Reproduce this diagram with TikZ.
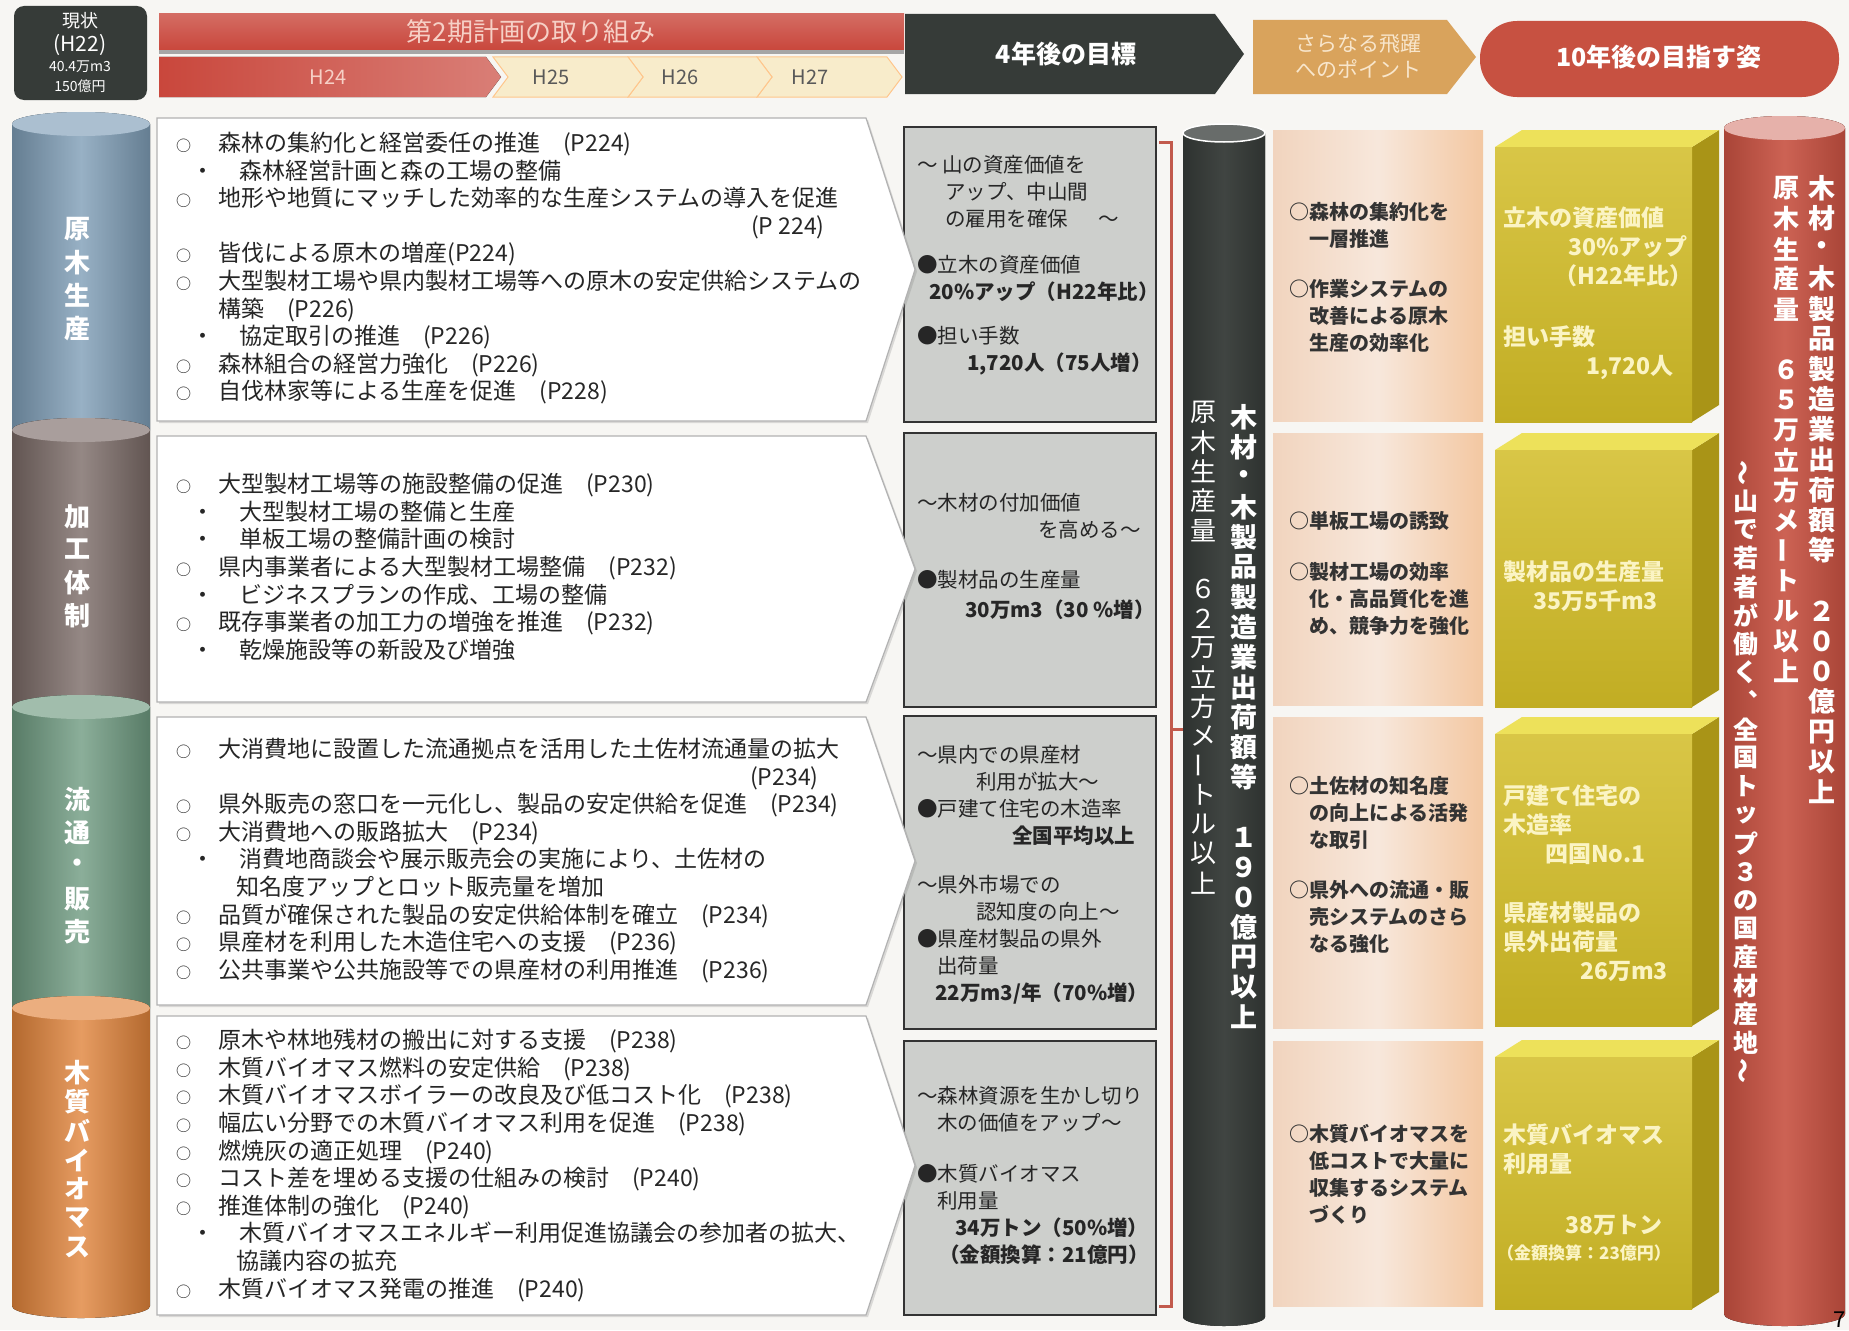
\documentclass[tikz,border=0pt]{standalone}
\usepackage{fontspec}
\setmainfont{Noto Sans CJK JP}
\usepackage{graphicx}
\usetikzlibrary{positioning, calc, shadows}

\definecolor{paper}{HTML}{F7F6F3}
\definecolor{genboku}{HTML}{7E9DB6}
\definecolor{kakou}{HTML}{7A6A66}
\definecolor{ryutsu}{HTML}{6E9A80}
\definecolor{biomass}{HTML}{E0833A}
\definecolor{darkgoal}{HTML}{363B38}
\definecolor{plred}{HTML}{C9473C}
\definecolor{plpink}{HTML}{F6D0C6}
\definecolor{goalgray}{HTML}{CDCFCC}
\definecolor{pointbg}{HTML}{F1D4BE}
\definecolor{pointhd}{HTML}{D9A35C}
\definecolor{pointpale}{HTML}{F8E6CC}
\definecolor{futured}{HTML}{C75141}
\definecolor{cubefront}{HTML}{D2BC26}
\definecolor{cubetop}{HTML}{EDE15A}
\definecolor{cubeside}{HTML}{A99417}
\definecolor{cubetext}{HTML}{FBF4C4}
\definecolor{yearcream}{HTML}{F8ECCB}
\definecolor{bracketred}{HTML}{C25A4C}

% vertical (tategaki) text: one character per row
\ExplSyntaxOn
\NewDocumentCommand{\vtext}{O{30pt}m}{
  \vbox{\offinterlineskip
    \tl_map_inline:nn {#2}
      {\hbox_to_wd:nn{1.2em}{\hss\vbox_to_ht:nn{#1}{\vss\hbox{##1}\vss}\hss}}
  }
}
\ExplSyntaxOff
\newcommand{\vbar}{\rotatebox[origin=c]{90}{ー}}
\newcommand{\vwave}{\rotatebox[origin=c]{90}{～}}

\newcommand{\maru}{\makebox[42pt][l]{\fontsize{15}{15}\selectfont ○}}
\newcommand{\pochi}{\hspace*{15pt}\makebox[48pt][l]{・}}

\tikzset{
  panel/.style={fill=white, draw=black!30, line width=1.2pt,
    drop shadow={opacity=0.25, shadow xshift=2pt, shadow yshift=-2pt}},
  goalframe/.style={fill=goalgray, draw=black!80, line width=1.6pt},
  plantext/.style={anchor=north west, inner sep=0pt, align=left, text=black!85,
    font=\fontsize{23}{27.6}\selectfont},
  goaltext/.style={anchor=north west, inner sep=0pt, align=left, text=black!85,
    font=\fontsize{20.5}{27}\selectfont},
  pointtext/.style={anchor=north west, inner sep=0pt, align=left, text=black!80,
    font=\bfseries\fontsize{20}{27}\selectfont},
  cubetxt/.style={anchor=north west, inner sep=0pt, align=left, text=cubetext,
    font=\bfseries\fontsize{23}{29}\selectfont},
  vlabel/.style={inner sep=0pt, text=white, font=\bfseries\fontsize{26}{26}\selectfont},
  nowtext/.style={inner sep=0pt, text=white},
}

% one segment of the left column
\newcommand{\segcyl}[3]{%
  \fill[left color=#1!80!black, right color=#1!80!black, middle color=#1!80!white]
    (12,#2) -- (12,#3) arc[start angle=180, end angle=0, x radius=69, y radius=12]
    -- (150,#2) arc[start angle=0, end angle=-180, x radius=69, y radius=12] -- cycle;
  \fill[#1!65!white] (81,#2) ellipse[x radius=69, y radius=12];
}

% yellow block of the 10-year column
\newcommand{\goldcube}[2]{%
  \fill[cubeside] (1692,#1+17) -- (1719,#1) -- (1719,#2-17) -- (1692,#2) -- cycle;
  \fill[cubetop] (1495,#1+17) -- (1522,#1) -- (1719,#1) -- (1692,#1+17) -- cycle;
  \fill[top color=cubefront!85!white, bottom color=cubefront!92!black]
    (1495,#1+17) rectangle (1692,#2);
}

\begin{document}
\begin{tikzpicture}[x=1pt, y=-1pt]
\useasboundingbox (0,0) rectangle (1849,1330);
\fill[paper] (0,0) rectangle (1849,1330);

% ---- header row
\fill[darkgoal, rounded corners=10pt] (14,6) rectangle (147,100);
\node[nowtext, font=\fontsize{18}{20}\selectfont] (genjo) at (80,21) {現状};
\node[nowtext, font=\fontsize{21}{23}\selectfont] (genjoyr) at (80,45) {(H22)};
\node[nowtext, font=\fontsize{14}{16}\selectfont] (genjovol) at (80,67) {40.4万m3};
\node[nowtext, font=\fontsize{14}{16}\selectfont] (genjoval) at (80,86) {150億円};

\fill[top color=plred!80!white, bottom color=plred] (159,14) rectangle (904,50);
\fill[black!35] (159,50) rectangle (904,54);
\node[text=plpink, font=\fontsize{26}{30}\selectfont] (dainiki) at (531,32) {第2期計画の取り組み};

\foreach \xa/\xb in {757/887, 628/757, 493/628}
  \filldraw[draw=orange!45, fill=yearcream, line width=1pt]
    (\xa,57) -- (\xb,57) -- (\xb+15,77) -- (\xb,97) -- (\xa,97) -- (\xa+15,77) -- cycle;
\fill[left color=plred, right color=plred!70!white]
  (159,57) -- (486,57) -- (501,77) -- (486,97) -- (159,97) -- cycle;
\node[text=plpink, font=\fontsize{20}{22}\selectfont] (h24) at (328,77) {H24};
\node[text=black!65, font=\fontsize{20}{22}\selectfont] (h25) at (551,77) {H25};
\node[text=black!65, font=\fontsize{20}{22}\selectfont] (h26) at (680,77) {H26};
\node[text=black!65, font=\fontsize{20}{22}\selectfont] (h27) at (810,77) {H27};

\fill[darkgoal] (905,14) -- (1215,14) -- (1244,54) -- (1215,94) -- (905,94) -- cycle;
\node[text=white, font=\bfseries\fontsize{25}{28}\selectfont] (yonengo) at (1066,54) {4年後の目標};

\fill[pointhd] (1253,20) -- (1447,20) -- (1476,57) -- (1447,94) -- (1253,94) -- cycle;
\node[text=pointpale, align=center, font=\fontsize{21}{26}\selectfont] (hiyaku) at (1358,56)
  {さらなる飛躍\\へのポイント};

\fill[futured, rounded corners=37pt] (1480,21) rectangle (1839,97);
\node[text=white, font=\bfseries\fontsize{25}{28}\selectfont] (junengo) at (1659,57) {10年後の目指す姿};

% ---- left column
\segcyl{genboku}{124}{430}
\segcyl{kakou}{430}{707}
\segcyl{ryutsu}{707}{1008}
\segcyl{biomass}{1008}{1306}
\node[vlabel] (lbgen) at (77,279) {\vtext[33pt]{原木生産}};
\node[vlabel] (lbkak) at (77,566) {\vtext[33pt]{加工体制}};
\node[vlabel] (lbryu) at (77,866) {\vtext[33pt]{流通・販売}};
\node[vlabel] (lbbio) at (77,1160) {\vtext[29pt]{木質バイオマス}};

% ---- 4-year targets (boxes first, plan panels overlap them)
\foreach \ya/\yb in {127/422, 433/707, 716/1029, 1041/1315}
  \filldraw[goalframe] (904,\ya) rectangle (1156,\yb);
\foreach \ya/\yb in {118/421, 436/702, 717/1005, 1016/1315}
  \filldraw[panel] (157,\ya) -- (866,\ya) -- (915,{(\ya+\yb)/2}) -- (866,\yb) -- (157,\yb) -- cycle;

\node[plantext] (plan1) at (176,132) {%
  \maru 森林の集約化と経営委任の推進　(P224)\\
  \pochi 森林経営計画と森の工場の整備\\
  \maru 地形や地質にマッチした効率的な生産システムの導入を促進\\
  \hspace*{575pt}(P 224)\\
  \maru 皆伐による原木の増産(P224)\\
  \maru 大型製材工場や県内製材工場等への原木の安定供給システムの\\
  \hspace*{42pt}構築　(P226)\\
  \pochi 協定取引の推進　(P226)\\
  \maru 森林組合の経営力強化　(P226)\\
  \maru 自伐林家等による生産を促進　(P228)};
\node[plantext] (plan2) at (176,473) {%
  \maru 大型製材工場等の施設整備の促進　(P230)\\
  \pochi 大型製材工場の整備と生産\\
  \pochi 単板工場の整備計画の検討\\
  \maru 県内事業者による大型製材工場整備　(P232)\\
  \pochi ビジネスプランの作成、工場の整備\\
  \maru 既存事業者の加工力の増強を推進　(P232)\\
  \pochi 乾燥施設等の新設及び増強};
\node[plantext] (plan3) at (176,738) {%
  \maru 大消費地に設置した流通拠点を活用した土佐材流通量の拡大\\
  \hspace*{574pt}(P234)\\
  \maru 県外販売の窓口を一元化し、製品の安定供給を促進　(P234)\\
  \maru 大消費地への販路拡大　(P234)\\
  \pochi 消費地商談会や展示販売会の実施により、土佐材の\\
  \hspace*{60pt}知名度アップとロット販売量を増加\\
  \maru 品質が確保された製品の安定供給体制を確立　(P234)\\
  \maru 県産材を利用した木造住宅への支援　(P236)\\
  \maru 公共事業や公共施設等での県産材の利用推進　(P236)};
\node[plantext] (plan4) at (176,1029) {%
  \maru 原木や林地残材の搬出に対する支援　(P238)\\
  \maru 木質バイオマス燃料の安定供給　(P238)\\
  \maru 木質バイオマスボイラーの改良及び低コスト化　(P238)\\
  \maru 幅広い分野での木質バイオマス利用を促進　(P238)\\
  \maru 燃焼灰の適正処理　(P240)\\
  \maru コスト差を埋める支援の仕組みの検討　(P240)\\
  \maru 推進体制の強化　(P240)\\
  \pochi 木質バイオマスエネルギー利用促進協議会の参加者の拡大、\\
  \hspace*{60pt}協議内容の拡充\\
  \maru 木質バイオマス発電の推進　(P240)};

\node[goaltext] (goal1) at (917,155) {%
  ～ 山の資産価値を\\
  \hspace*{28pt}アップ、中山間\\
  \hspace*{28pt}の雇用を確保\hspace*{30pt}～\\[19pt]
  ●立木の資産価値\\
  \hspace*{12pt}\textbf{20\%アップ（H22年比）}\\[17pt]
  ●担い手数\\
  \hspace*{50pt}\textbf{1,720人（75人増）}};
\node[goaltext] (goal2) at (917,493) {%
  ～木材の付加価値\\
  \hspace*{121pt}を高める～\\[23pt]
  ●製材品の生産量\\[3pt]
  \hspace*{48pt}\textbf{30万m3（30 \%増）}};
\node[goaltext] (goal3) at (917,745) {%
  ～県内での県産材\\
  \hspace*{59pt}利用が拡大～\\
  ●戸建て住宅の木造率\\
  \hspace*{95pt}\textbf{全国平均以上}\\[22pt]
  ～県外市場での\\
  \hspace*{59pt}認知度の向上～\\
  ●県産材製品の県外\\
  \hspace*{20pt}出荷量\\
  \hspace*{18pt}\textbf{22万m3/年（70\%増）}};
\node[goaltext] (goal4) at (917,1086) {%
  ～森林資源を生かし切り\\
  \hspace*{20pt}木の価値をアップ～\\[24pt]
  ●木質バイオマス\\
  \hspace*{20pt}利用量\\
  \hspace*{38pt}\textbf{34万トン（50\%増）}\\
  \hspace*{22pt}\textbf{（金額換算：21億円）}};

% ---- bracket and dark column (4-year total)
\draw[bracketred, line width=3pt] (1159,142) -- (1171,142) -- (1171,1306) -- (1159,1306);
\draw[bracketred, line width=3pt] (1171,729) -- (1183,729);
\fill[left color=darkgoal!85!black, right color=darkgoal!85!black, middle color=darkgoal!95!white]
  (1183,133) -- (1183,1317) arc[start angle=180, end angle=0, x radius=41, y radius=9]
  -- (1265,133) arc[start angle=0, end angle=-180, x radius=41, y radius=9] -- cycle;
\filldraw[fill=darkgoal!75!white, draw=white, line width=1.5pt] (1224,133) ellipse[x radius=41, y radius=9];
\node[inner sep=0pt, text=white, font=\bfseries\fontsize{27}{27}\selectfont] (darkright) at (1244,717)
  {\vtext[30pt]{木材・木製品製造業出荷額等　１９０億円以上}};
\node[inner sep=0pt, text=white, font=\fontsize{26}{26}\selectfont] (darkleft) at (1203,648)
  {\vtext[29.4pt]{原木生産量　６２万立方メ{\vbar}トル以上}};

% ---- points column
\foreach \ya/\yb in {130/421, 433/705, 717/1028, 1041/1306}
  \fill[left color=pointbg, right color=pointbg!85!orange, middle color=pointbg!55!white]
    (1273,\ya) rectangle (1483,\yb);
\node[pointtext] (point1) at (1289,202) {%
  ○森林の集約化を\\\hspace*{20pt}一層推進\\[23pt]
  ○作業システムの\\\hspace*{20pt}改善による原木\\\hspace*{20pt}生産の効率化};
\node[pointtext] (point2) at (1289,511) {%
  ○単板工場の誘致\\[24pt]
  ○製材工場の効率\\\hspace*{20pt}化・高品質化を進\\\hspace*{20pt}め、競争力を強化};
\node[pointtext] (point3) at (1289,776) {%
  ○土佐材の知名度\\\hspace*{20pt}の向上による活発\\\hspace*{20pt}な取引\\[23pt]
  ○県外への流通・販\\\hspace*{20pt}売システムのさら\\\hspace*{20pt}なる強化};
\node[pointtext] (point4) at (1289,1124) {%
  ○木質バイオマスを\\\hspace*{20pt}低コストで大量に\\\hspace*{20pt}収集するシステム\\\hspace*{20pt}づくり};

% ---- 10-year blocks
\goldcube{130}{422}
\goldcube{433}{707}
\goldcube{717}{1026}
\goldcube{1040}{1309}
\node[cubetxt] (cube1) at (1503,207) {%
  立木の資産価値\\\hspace*{65pt}30\%アップ\\\hspace*{51pt}（H22年比）\\[32pt]
  担い手数\\\hspace*{83pt}1,720人};
\node[cubetxt] (cube2) at (1503,561) {%
  製材品の生産量\\\hspace*{30pt}35万5千m3};
\node[cubetxt] (cube3) at (1503,785) {%
  戸建て住宅の\\木造率\\\hspace*{42pt}四国No.1\\[30pt]
  県産材製品の\\県外出荷量\\\hspace*{77pt}26万m3};
\node[cubetxt] (cube4) at (1503,1124) {%
  木質バイオマス\\利用量\\[32pt]\hspace*{62pt}38万トン};
\node[cubetxt, font=\bfseries\fontsize{17}{20}\selectfont] (cube4b) at (1497,1245) {（金額換算：23億円）};

% ---- red column (10-year vision)
\fill[left color=futured!85!black, right color=futured!85!black, middle color=futured!90!white]
  (1724,128) -- (1724,1314) arc[start angle=180, end angle=0, x radius=60.5, y radius=12]
  -- (1845,128) arc[start angle=0, end angle=-180, x radius=60.5, y radius=12] -- cycle;
\fill[futured!45!white] (1784.5,128) ellipse[x radius=60.5, y radius=12];
\node[inner sep=0pt, text=white, font=\bfseries\fontsize{27}{27}\selectfont] (redright) at (1822,490)
  {\vtext[30.2pt]{木材・木製品製造業出荷額等　２００億円以上}};
\node[inner sep=0pt, text=white, font=\bfseries\fontsize{26}{26}\selectfont] (redmid) at (1786,430)
  {\vtext[30.2pt]{原木生産量　６５万立方メ{\vbar}トル以上}};
\node[inner sep=0pt, text=white, font=\bfseries\fontsize{25}{25}\selectfont] (redleft) at (1746,772)
  {\vtext[28.5pt]{{\vwave}山で若者が働く︑全国トップ３の国産材産地{\vwave}}};

\node[anchor=north, inner sep=0pt, font=\fontsize{22}{22}\selectfont] (pageno) at (1840,1312) {7};
\end{tikzpicture}
\end{document}
